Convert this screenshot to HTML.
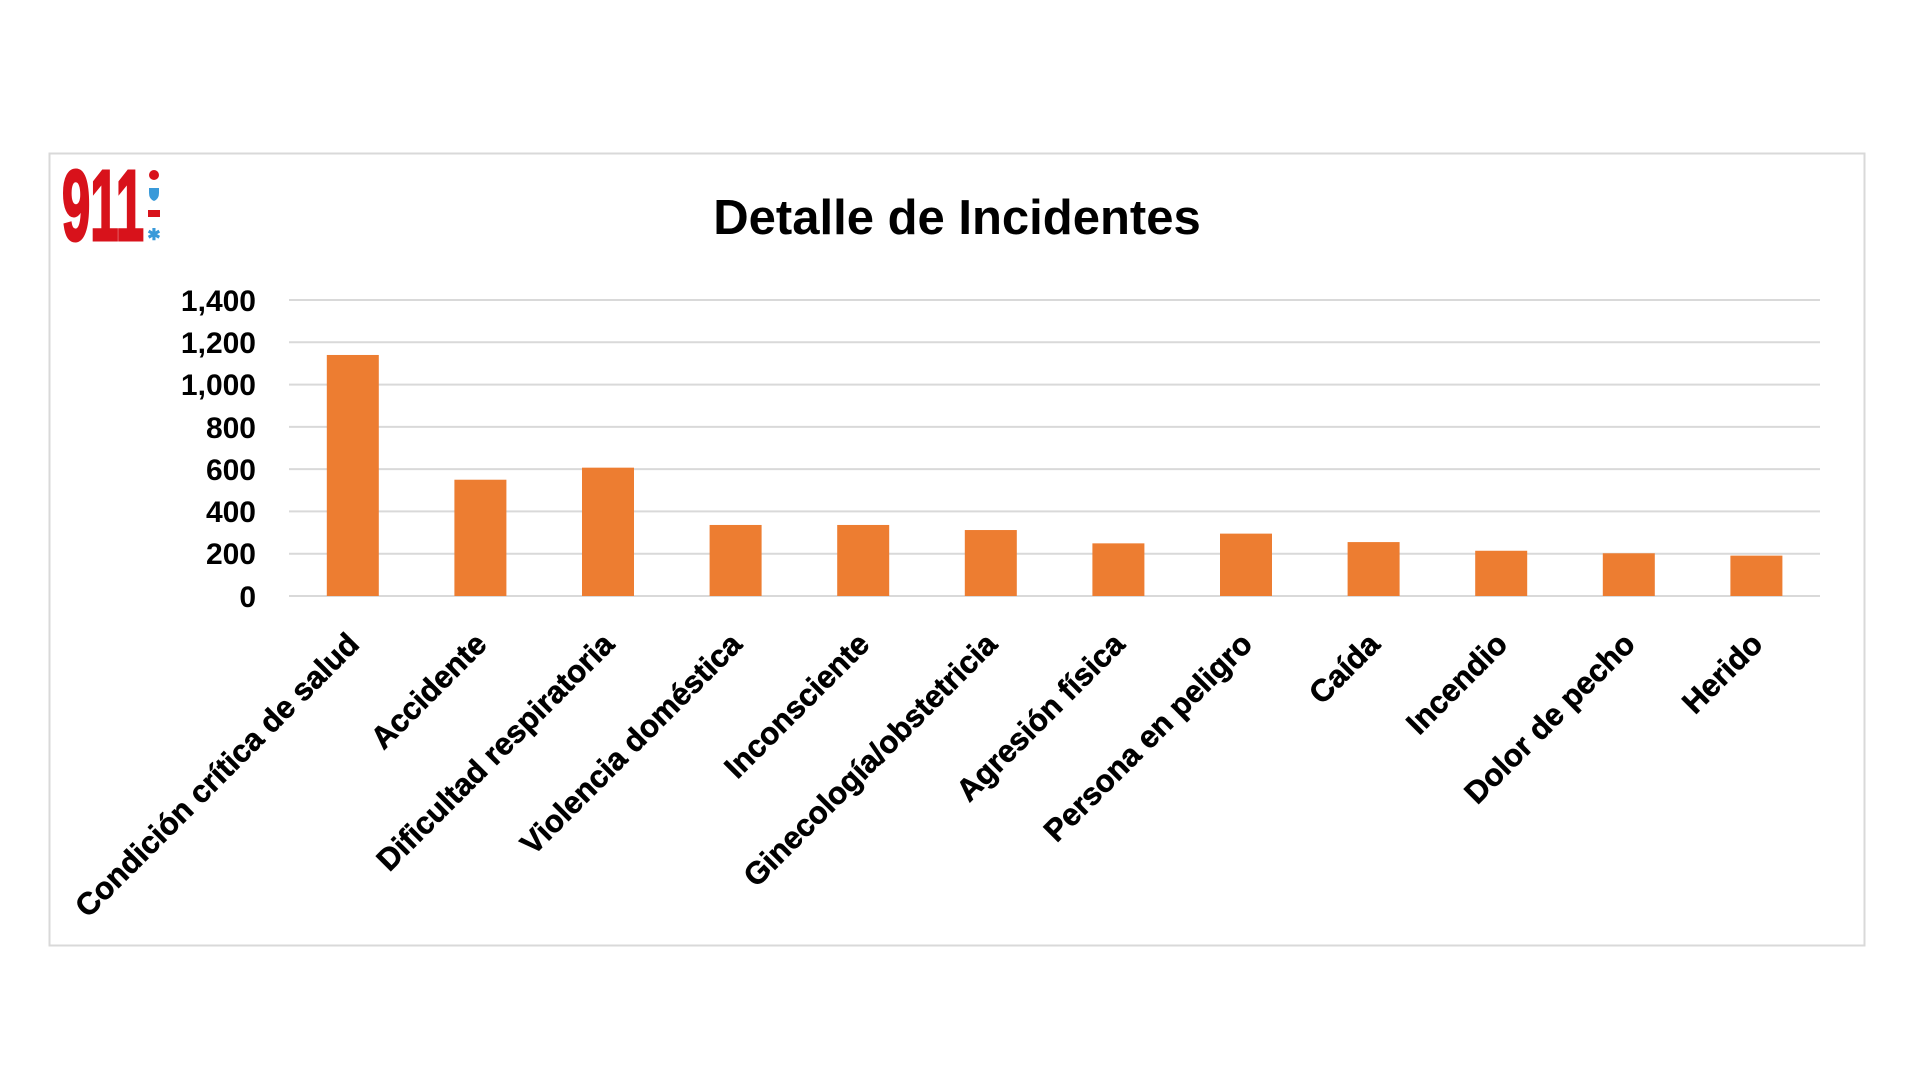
<!DOCTYPE html>
<html><head><meta charset="utf-8"><style>
html,body{margin:0;padding:0;background:#fff;}
svg{display:block;}
text{font-family:"Liberation Sans",sans-serif;font-weight:bold;fill:#000;}
</style></head><body>
<svg width="1920" height="1081" viewBox="0 0 1920 1081" xmlns="http://www.w3.org/2000/svg">
<rect x="49.5" y="153.5" width="1815" height="792" fill="#fff" stroke="#d9d9d9" stroke-width="2"/>
<!-- logo -->
<text x="62" y="240" font-size="100" style="fill:#d8121b;font-weight:bold;stroke:#d8121b;stroke-width:3" textLength="82" lengthAdjust="spacingAndGlyphs">911</text>
<circle cx="154" cy="175" r="5" fill="#d8121b"/>
<path d="M149 188 h10 v5 q0 6 -5 8 q-5 -2 -5 -8z" fill="#3a9ad9"/>
<rect x="148" y="210" width="12" height="7" fill="#d8121b"/>
<text x="154" y="240" font-size="16" text-anchor="middle" style="fill:#3a9ad9">✱</text>
<text x="957" y="234" font-size="49" text-anchor="middle">Detalle de Incidentes</text>
<g stroke="#d9d9d9" stroke-width="2">
<line x1="289" x2="1820" y1="300" y2="300"/>
<line x1="289" x2="1820" y1="342.3" y2="342.3"/>
<line x1="289" x2="1820" y1="384.6" y2="384.6"/>
<line x1="289" x2="1820" y1="426.9" y2="426.9"/>
<line x1="289" x2="1820" y1="469.1" y2="469.1"/>
<line x1="289" x2="1820" y1="511.4" y2="511.4"/>
<line x1="289" x2="1820" y1="553.7" y2="553.7"/>
<line x1="289" x2="1820" y1="596" y2="596"/>
</g>
<g font-size="30" text-anchor="end">
<text x="256" y="311">1,400</text>
<text x="256" y="353">1,200</text>
<text x="256" y="395">1,000</text>
<text x="256" y="438">800</text>
<text x="256" y="480">600</text>
<text x="256" y="522">400</text>
<text x="256" y="564">200</text>
<text x="256" y="607">0</text>
</g>
<g fill="#ed7d31" id="bars"></g>
<g id="labels" font-size="31" text-anchor="end" style="stroke:#000;stroke-width:0.6"></g>
<script>
var names=["Condición crítica de salud","Accidente","Dificultad respiratoria","Violencia doméstica","Inconsciente","Ginecología/obstetricia","Agresión física","Persona en peligro","Caída","Incendio","Dolor de pecho","Herido"];
var vals=[1140,550,607,336,336,312,249,295,255,214,202,191];
var ns="http://www.w3.org/2000/svg",b=document.getElementById("bars"),l=document.getElementById("labels");
for(var i=0;i<12;i++){var c=289+127.6*(i+0.5);var h=vals[i]/1400*296;
var r=document.createElementNS(ns,"rect");r.setAttribute("x",c-26);r.setAttribute("width",52);r.setAttribute("y",596-h);r.setAttribute("height",h);b.appendChild(r);
var t=document.createElementNS(ns,"text");t.setAttribute("transform","translate("+(c+8)+",646) rotate(-45)");t.textContent=names[i];l.appendChild(t);}
</script>
</svg>
</body></html>
